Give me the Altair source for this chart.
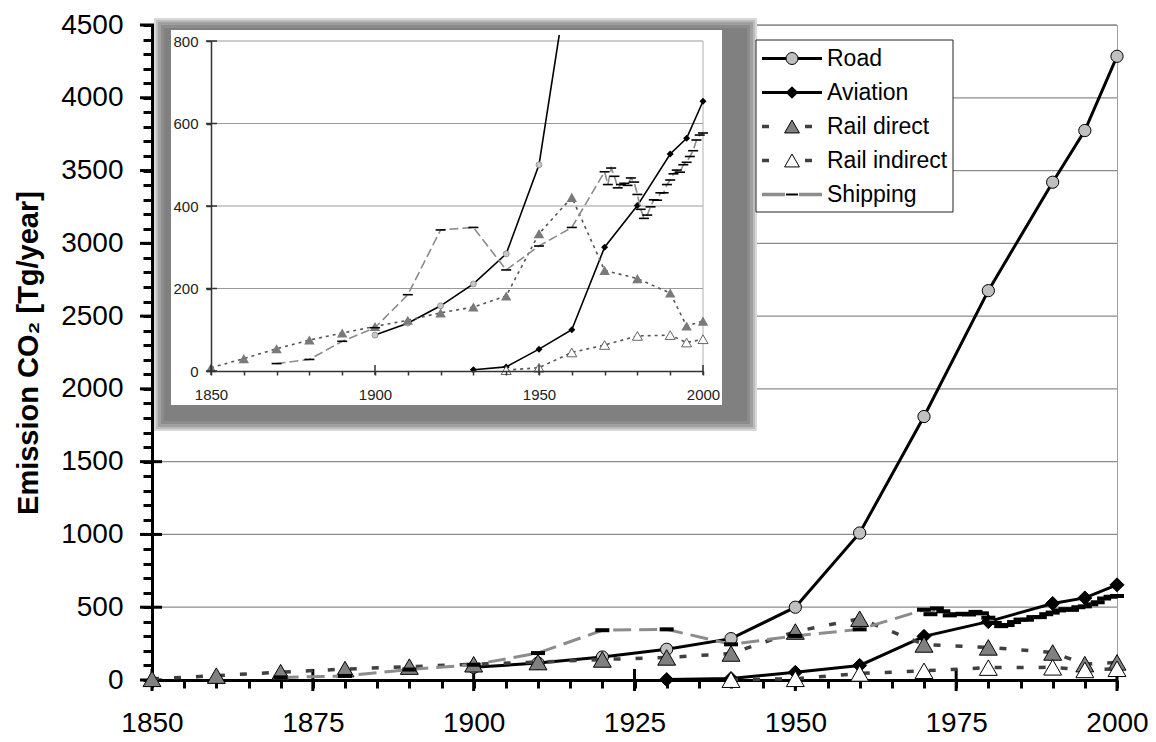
import altair as alt
import pandas as pd

FONT = "Liberation Sans"

# ---------------- data ----------------
series_names = ["Road", "Aviation", "Rail direct", "Rail indirect", "Shipping"]

road_years = [1900, 1910, 1920, 1930, 1940, 1950, 1960, 1970, 1980, 1990, 1995, 2000]
road_values = [87, 116, 158, 211, 284, 500, 1010, 1810, 2675, 3420, 3775, 4285]

aviation_years = [1930, 1940, 1950, 1960, 1970, 1980, 1990, 1995, 2000]
aviation_values = [3, 10, 53, 100, 300, 401, 526, 564, 654]

rail_direct_years = [1850, 1860, 1870, 1880, 1890, 1900, 1910, 1920, 1930, 1940,
                     1950, 1960, 1970, 1980, 1990, 1995, 2000]
rail_direct_values = [8, 30, 54, 75, 92, 108, 123, 141, 155, 182,
                      333, 421, 244, 224, 189, 109, 121]

rail_indirect_years = [1940, 1950, 1960, 1970, 1980, 1990, 1995, 2000]
rail_indirect_values = [2, 8, 45, 63, 85, 87, 69, 77]

shipping_years = [1870, 1880, 1890, 1900, 1910, 1920, 1930, 1940, 1950, 1960,
                  1970, 1971, 1972, 1973, 1974, 1975, 1976, 1977, 1978, 1979,
                  1980, 1981, 1982, 1983, 1984, 1985, 1986, 1987, 1988, 1989,
                  1990, 1991, 1992, 1993, 1994, 1995, 1996, 1997, 1998, 1999, 2000]
shipping_values = [18, 28, 72, 105, 185, 342, 348, 245, 303, 348,
                   483, 452, 492, 472, 444, 452, 455, 450, 468, 458,
                   428, 392, 370, 378, 398, 415, 414, 432, 432, 452,
                   463, 478, 487, 482, 500, 506, 520, 534, 560, 572, 577]

main_x_ticks = [1850, 1855, 1860, 1865, 1870, 1875, 1880, 1885, 1890, 1895, 1900,
                1905, 1910, 1915, 1920, 1925, 1930, 1935, 1940, 1945, 1950, 1955,
                1960, 1965, 1970, 1975, 1980, 1985, 1990, 1995, 2000]
main_x_labels = [1850, 1875, 1900, 1925, 1950, 1975, 2000]
main_y_ticks = list(range(0, 4501, 100))
main_y_labels = [0, 500, 1000, 1500, 2000, 2500, 3000, 3500, 4000, 4500]
inset_x_ticks = [1850, 1860, 1870, 1880, 1890, 1900, 1910, 1920, 1930, 1940, 1950,
                 1960, 1970, 1980, 1990, 2000]
inset_x_labels = [1850, 1900, 1950, 2000]
inset_y_labels = [0, 200, 400, 600, 800]


def frame(years, values):
    return pd.DataFrame({"year": years, "value": values})


road_df = frame(road_years, road_values)
aviation_df = frame(aviation_years, aviation_values)
rail_direct_df = frame(rail_direct_years, rail_direct_values)
rail_indirect_df = frame(rail_indirect_years, rail_indirect_values)
shipping_df = frame(shipping_years, shipping_values)

# ---------------- layout (page pixels) ----------------
LEFT, TOP = 152, 25          # page position of plot-area top-left
W, H = 965, 655              # plot area


def px(page_x):
    return page_x - LEFT


def py(page_y):
    return page_y - TOP


DASH_PATH = "M-1,0L1,0"

# ---------------- main chart ----------------
mx_scale = alt.Scale(domain=[1850, 2000], nice=False, zero=False)
my_scale = alt.Scale(domain=[0, 4500], nice=False)

main_x_axis = alt.Axis(
    values=main_x_ticks, format="d",
    labelExpr="datum.value % 25 == 0 ? datum.label : ''",
    tickSize=8, tickWidth=3, tickColor="black",
    domainColor="black", domainWidth=3,
    labelFont=FONT, labelFontSize=28, labelColor="black", labelPadding=21,
    labelOverlap=False, labelFlush=False, grid=False, title=None, zindex=0)

main_y_axis = alt.Axis(
    values=main_y_ticks, format="d",
    labelExpr="datum.value % 500 == 0 ? datum.label : ''",
    tickSize=9, tickWidth=3, tickColor="black",
    domainColor="black", domainWidth=3,
    labelFont=FONT, labelFontSize=28, labelColor="black", labelPadding=20,
    labelOverlap=False, grid=False,
    title="Emission CO₂ [Tg/year]", titleFont=FONT, titleFontSize=29,
    titleFontWeight="bold", titleColor="black", titlePadding=17, zindex=0)


def MX():
    return alt.X("year:Q", scale=mx_scale, axis=main_x_axis)


def MY():
    return alt.Y("value:Q", scale=my_scale, axis=main_y_axis)


main_grid = alt.Chart(pd.DataFrame({"value": main_y_labels[1:]})).mark_rule(
    color="#8c8c8c", strokeWidth=1.3).encode(y=MY(), x=alt.value(0), x2=alt.value(W))
main_ytick = alt.Chart(pd.DataFrame({"value": main_y_labels})).mark_rule(
    color="black", strokeWidth=3).encode(y=MY(), x=alt.value(-12), x2=alt.value(10))
main_xtick = alt.Chart(pd.DataFrame({"year": main_x_labels})).mark_rule(
    color="black", strokeWidth=3).encode(x=MX(), y=alt.value(H - 11), y2=alt.value(H + 11))

main_layers = [main_grid, main_ytick, main_xtick]

# Road
main_layers.append(alt.Chart(road_df).mark_line(color="black", strokeWidth=3).encode(x=MX(), y=MY()))
main_layers.append(alt.Chart(road_df).mark_point(
    shape="circle", size=150, filled=True, fill="#c0c0c0", stroke="black",
    strokeWidth=1, opacity=1).encode(x=MX(), y=MY()))
# Aviation
main_layers.append(alt.Chart(aviation_df).mark_line(color="black", strokeWidth=3).encode(x=MX(), y=MY()))
main_layers.append(alt.Chart(aviation_df).mark_point(
    shape="diamond", size=196, filled=True, fill="black", stroke="black",
    strokeWidth=1, opacity=1).encode(x=MX(), y=MY()))
# Rail direct
main_layers.append(alt.Chart(rail_direct_df).mark_line(
    color="#404040", strokeWidth=3.5, strokeDash=[7, 15]).encode(x=MX(), y=MY()))
main_layers.append(alt.Chart(rail_direct_df).mark_point(
    shape="triangle-up", size=320, filled=True, fill="#808080", stroke="black",
    strokeWidth=1, opacity=1).encode(x=MX(), y=MY()))
# Rail indirect
main_layers.append(alt.Chart(rail_indirect_df).mark_line(
    color="#404040", strokeWidth=3.5, strokeDash=[7, 15]).encode(x=MX(), y=MY()))
main_layers.append(alt.Chart(rail_indirect_df).mark_point(
    shape="triangle-up", size=320, filled=True, fill="white", stroke="black",
    strokeWidth=1, opacity=1).encode(x=MX(), y=MY()))
# Shipping
main_layers.append(alt.Chart(shipping_df).mark_line(
    color="#8c8c8c", strokeWidth=3, strokeDash=[18, 8]).encode(x=MX(), y=MY()))
main_layers.append(alt.Chart(shipping_df).mark_point(
    shape=DASH_PATH, size=196, filled=False, stroke="black",
    strokeWidth=4, opacity=1).encode(x=MX(), y=MY()))

main = alt.layer(*main_layers)

# ---------------- inset shadow & box (page coords) ----------------
one = pd.DataFrame({"k": [0]})
rings_page = [
    (154, 757, 18, 431, "#d8d8d8"),
    (156, 755, 20, 429, "#bcbcbc"),
    (158, 753, 22, 427, "#a0a0a0"),
    (161, 750, 25, 424, "#8c8c8c"),
    (164, 747, 28, 421, "#808080"),
]
BOX_PAGE = (171, 722, 30, 405)


def rect(x, x2, y, y2, color):
    return alt.Chart(one).mark_rect(color=color, strokeWidth=0).encode(
        x=alt.value(px(x)), x2=alt.value(px(x2)), y=alt.value(py(y)), y2=alt.value(py(y2)))


shadow_layers = [rect(*r) for r in rings_page]
shadow_layers.append(rect(*BOX_PAGE, "white"))

# ---------------- inset chart ----------------
IX0, IX1 = px(211), px(703)
IY0, IY1 = py(371), py(41)
ix_scale = alt.Scale(domain=[1850, 2000], range=[IX0, IX1], nice=False, zero=False)
iy_scale = alt.Scale(domain=[0, 800], range=[IY0, IY1], nice=False)

inset_x_axis = alt.Axis(
    orient="bottom", offset=IY0 - H, values=inset_x_ticks, format="d",
    labelExpr="datum.value % 50 == 0 ? datum.label : ''",
    tickSize=4, tickWidth=1.5, tickColor="#333333",
    domainColor="#333333", domainWidth=1.5,
    labelFont=FONT, labelFontSize=15, labelColor="#222222", labelPadding=12,
    labelOverlap=False, labelFlush=False, grid=False, title=None, zindex=1)
inset_y_axis = alt.Axis(
    orient="left", offset=-IX0, values=inset_y_labels, format="d",
    tickSize=5, tickWidth=1.5, tickColor="#333333",
    domainColor="#333333", domainWidth=1.5,
    labelFont=FONT, labelFontSize=15, labelColor="#222222", labelPadding=8,
    labelOverlap=False, grid=False, title=None, zindex=1)


def IX():
    return alt.X("year:Q", scale=ix_scale, axis=inset_x_axis)


def IY():
    return alt.Y("value:Q", scale=iy_scale, axis=inset_y_axis)


inset_layers = [
    alt.Chart(pd.DataFrame({"value": inset_y_labels[1:]})).mark_rule(
        color="#9a9a9a", strokeWidth=1).encode(y=IY(), x=alt.value(IX0), x2=alt.value(IX1)),
    alt.Chart(pd.DataFrame({"year": [2000]})).mark_rule(
        color="#b0b0b0", strokeWidth=1).encode(x=IX(), y=alt.value(IY1), y2=alt.value(IY0)),
]
# Road
inset_layers.append(alt.Chart(road_df).mark_line(color="black", strokeWidth=1.6, clip=True).encode(x=IX(), y=IY()))
inset_layers.append(alt.Chart(road_df).mark_point(
    shape="circle", size=36, filled=True, fill="#c8c8c8", stroke="#888888",
    strokeWidth=0.8, opacity=1, clip=True).encode(x=IX(), y=IY()))
# Aviation
inset_layers.append(alt.Chart(aviation_df).mark_line(color="black", strokeWidth=1.6).encode(x=IX(), y=IY()))
inset_layers.append(alt.Chart(aviation_df).mark_point(
    shape="diamond", size=49, filled=True, fill="black", opacity=1).encode(x=IX(), y=IY()))
# Rail direct
inset_layers.append(alt.Chart(rail_direct_df).mark_line(
    color="#555555", strokeWidth=1.6, strokeDash=[3, 4]).encode(x=IX(), y=IY()))
inset_layers.append(alt.Chart(rail_direct_df).mark_point(
    shape="triangle-up", size=110, filled=True, fill="#7a7a7a", opacity=1).encode(x=IX(), y=IY()))
# Rail indirect
inset_layers.append(alt.Chart(rail_indirect_df).mark_line(
    color="#555555", strokeWidth=1.6, strokeDash=[3, 4]).encode(x=IX(), y=IY()))
inset_layers.append(alt.Chart(rail_indirect_df).mark_point(
    shape="triangle-up", size=100, filled=True, fill="white", stroke="#555555",
    strokeWidth=0.9, opacity=1).encode(x=IX(), y=IY()))
# Shipping
inset_layers.append(alt.Chart(shipping_df).mark_line(
    color="#8c8c8c", strokeWidth=1.6, strokeDash=[9, 4]).encode(x=IX(), y=IY()))
inset_layers.append(alt.Chart(shipping_df).mark_point(
    shape=DASH_PATH, size=100, filled=False, stroke="black",
    strokeWidth=1.6, opacity=1).encode(x=IX(), y=IY()))
# crossing major ticks
inset_layers.append(alt.Chart(pd.DataFrame({"value": inset_y_labels})).mark_rule(
    color="#333333", strokeWidth=1.5).encode(y=IY(), x=alt.value(IX0 - 5), x2=alt.value(IX0 + 6)))
inset_layers.append(alt.Chart(pd.DataFrame({"year": inset_x_labels})).mark_rule(
    color="#333333", strokeWidth=1.5).encode(x=IX(), y=alt.value(IY0 - 6), y2=alt.value(IY0 + 4)))

inset = alt.layer(*inset_layers)

# cover where the Road line leaves the inset (redraw shadow band and box top there)
CX0, CX1 = 547, 577
cover_layers = []
for (x0, x1, y0, y1, c) in rings_page:
    if y0 < BOX_PAGE[2]:
        cover_layers.append(rect(CX0, CX1, max(y0, TOP), min(y1, BOX_PAGE[2]), c))
cover_layers.append(rect(CX0, CX1, BOX_PAGE[2], BOX_PAGE[2] + 5, "white"))

# ---------------- legend ----------------
ly_scale = alt.Scale(type="point", domain=series_names,
                     range=[py(58.5), py(194.5)], padding=0)


def LY():
    return alt.Y("series:N", scale=ly_scale, axis=None)


def row(name):
    return alt.Chart(pd.DataFrame({"series": [name]}))


SX0, SX1, SXM, SXD, TX = px(762), px(822), px(792), px(812), px(827)

legend_layers = [
    alt.Chart(one).mark_rect(fill="white", stroke="#222222", strokeWidth=1).encode(
        x=alt.value(px(756)), x2=alt.value(px(953)), y=alt.value(py(40)), y2=alt.value(py(212))),
    row("Road").mark_rule(color="black", strokeWidth=3).encode(
        y=LY(), x=alt.value(SX0), x2=alt.value(SX1)),
    row("Road").mark_point(shape="circle", size=144, filled=True, fill="#c0c0c0",
                           stroke="black", strokeWidth=1, opacity=1).encode(y=LY(), x=alt.value(SXM)),
    row("Aviation").mark_rule(color="black", strokeWidth=3).encode(
        y=LY(), x=alt.value(SX0), x2=alt.value(SX1)),
    row("Aviation").mark_point(shape="diamond", size=160, filled=True, fill="black",
                               opacity=1).encode(y=LY(), x=alt.value(SXM)),
    row("Rail direct").mark_rule(color="#404040", strokeWidth=3.5, strokeDash=[7, 36]).encode(
        y=LY(), x=alt.value(SX0), x2=alt.value(SXD)),
    row("Rail direct").mark_point(shape="triangle-up", size=220, filled=True, fill="#808080",
                                  stroke="black", strokeWidth=1, opacity=1).encode(y=LY(), x=alt.value(SXM)),
    row("Rail indirect").mark_rule(color="#404040", strokeWidth=3.5, strokeDash=[7, 36]).encode(
        y=LY(), x=alt.value(SX0), x2=alt.value(SXD)),
    row("Rail indirect").mark_point(shape="triangle-up", size=220, filled=True, fill="white",
                                    stroke="black", strokeWidth=1, opacity=1).encode(y=LY(), x=alt.value(SXM)),
    row("Shipping").mark_rule(color="#8c8c8c", strokeWidth=3.5, strokeDash=[23, 14]).encode(
        y=LY(), x=alt.value(SX0), x2=alt.value(SX1)),
    row("Shipping").mark_point(shape=DASH_PATH, size=144, filled=False, stroke="black",
                               strokeWidth=2, opacity=1).encode(y=LY(), x=alt.value(SXM)),
    alt.Chart(pd.DataFrame({"series": series_names})).mark_text(
        align="left", baseline="middle", font=FONT, fontSize=23, color="black").encode(
        y=LY(), x=alt.value(TX), text="series:N"),
]
legend = alt.layer(*legend_layers)

chart = alt.layer(
    main, *shadow_layers, inset, *cover_layers, legend
).resolve_scale(
    x="independent", y="independent"
).properties(
    width=W, height=H,
    padding={"left": LEFT - 8, "top": TOP - 8, "right": 31, "bottom": 742 - 8 - (TOP - 8) - H},
    autosize=alt.AutoSizeParams(type="none"),
    background="white",
).configure_view(stroke="#a0a0a0", strokeWidth=1)

chart.save("out.html", embed_options={"renderer": "svg", "actions": False})
